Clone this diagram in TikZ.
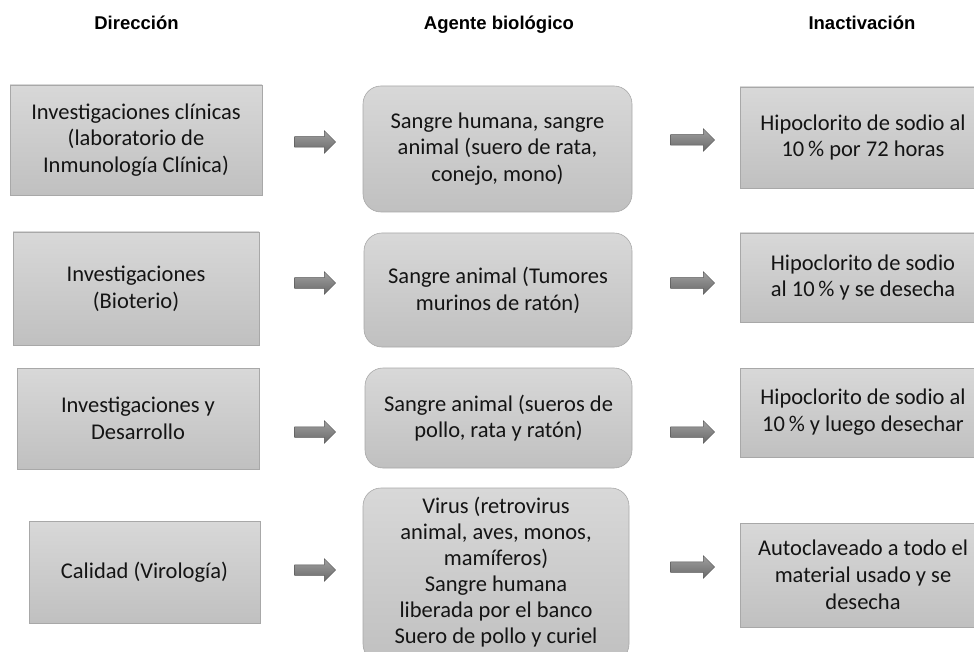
\documentclass[tikz,border=0pt]{standalone}
\usepackage{fontspec}
\setmainfont{Carlito}
\newfontfamily\hdrfont{Liberation Sans}
\usetikzlibrary{shapes.arrows}
\definecolor{boxtop}{RGB}{216,216,216}
\definecolor{boxbot}{RGB}{192,192,192}
\definecolor{boxline}{RGB}{168,168,168}
\definecolor{arrtop}{RGB}{160,160,160}
\definecolor{arrbot}{RGB}{105,105,105}
\definecolor{arrline}{RGB}{85,85,85}
\definecolor{txt}{RGB}{20,20,20}
\begin{document}
\begin{tikzpicture}[x=1pt,y=-1pt,
  boxbase/.style={draw=boxline, line width=0.6pt, top color=boxtop, bottom color=boxbot,
    align=center, text=txt, font=\fontsize{22.5}{26.8}\selectfont, inner sep=0pt, anchor=center},
  sqbox/.style={boxbase},
  rndbox/.style={boxbase, rounded corners=18pt},
  hdr/.style={font=\hdrfont\bfseries\fontsize{18.5}{22}\selectfont, anchor=base, inner sep=0pt},
  bigarrow/.style={single arrow, draw=arrline, line width=0.5pt, top color=arrtop, bottom color=arrbot,
    minimum height=44pt, inner sep=5pt, single arrow head extend=6pt, anchor=center}
]
\useasboundingbox (0,0) rectangle (974,652);
\clip (0,0) rectangle (974,652);

% headers
\node[hdr] (h1) at (136.5,30) {Dirección};
\node[hdr] (h2) at (499,30) {Agente biológico};
\node[hdr] (h3) at (862,30) {Inactivación};

% row 1
\node[sqbox, minimum width=252pt, minimum height=110pt] (l1) at (136,140)
  {Investigaciones clínicas\\(laboratorio de\\Inmunología Clínica)};
\node[rndbox, minimum width=269pt, minimum height=126pt] (m1) at (497.5,149)
  {Sangre humana, sangre\\animal (suero de rata,\\conejo, mono)};
\node[sqbox, minimum width=246pt, minimum height=101pt] (r1) at (863,137.5)
  {Hipoclorito de sodio al\\10\,\% por 72 horas};

% row 2
\node[sqbox, minimum width=246pt, minimum height=113pt] (l2) at (136,288.5)
  {Investigaciones\\(Bioterio)};
\node[rndbox, minimum width=268pt, minimum height=114pt] (m2) at (498,290)
  {Sangre animal (Tumores\\murinos de ratón)};
\node[sqbox, minimum width=246pt, minimum height=89pt] (r2) at (863,277.5)
  {Hipoclorito de sodio\\al 10\,\% y se desecha};

% row 3
\node[sqbox, minimum width=242pt, minimum height=101pt] (l3) at (138,418.5)
  {Investigaciones y\\Desarrollo};
\node[rndbox, minimum width=267pt, minimum height=100pt] (m3) at (498.5,418)
  {Sangre animal (sueros de\\pollo, rata y ratón)};
\node[sqbox, minimum width=246pt, minimum height=89pt] (r3) at (863,412.5)
  {Hipoclorito de sodio al\\10\,\% y luego desechar};

% row 4
\node[sqbox, minimum width=231pt, minimum height=102pt] (l4) at (144.5,572)
  {Calidad (Virología)};
\node[rndbox, minimum width=266pt, minimum height=174pt] (m4) at (496,575) {};
\node[align=center, text=txt, font=\fontsize{22.5}{26}\selectfont, inner sep=0pt, anchor=center] (m4t) at (496,572.5)
  {Virus (retrovirus\\animal, aves, monos,\\mamíferos)\\Sangre humana\\liberada por el banco\\Suero de pollo y curiel};
\node[sqbox, minimum width=246pt, minimum height=104pt] (r4) at (863,575)
  {Autoclaveado a todo el\\material usado y se\\desecha};

% arrows
\node[bigarrow, minimum height=41pt] (a1) at (312.5,142) {};
\node[bigarrow] (b1) at (690,140) {};
\node[bigarrow, minimum height=41pt] (a2) at (312.5,283) {};
\node[bigarrow] (b2) at (690,283) {};
\node[bigarrow, minimum height=41pt] (a3) at (312.5,432) {};
\node[bigarrow] (b3) at (690,432) {};
\node[bigarrow, minimum height=41pt] (a4) at (312.5,570) {};
\node[bigarrow] (b4) at (690,567) {};
\end{tikzpicture}
\end{document}
